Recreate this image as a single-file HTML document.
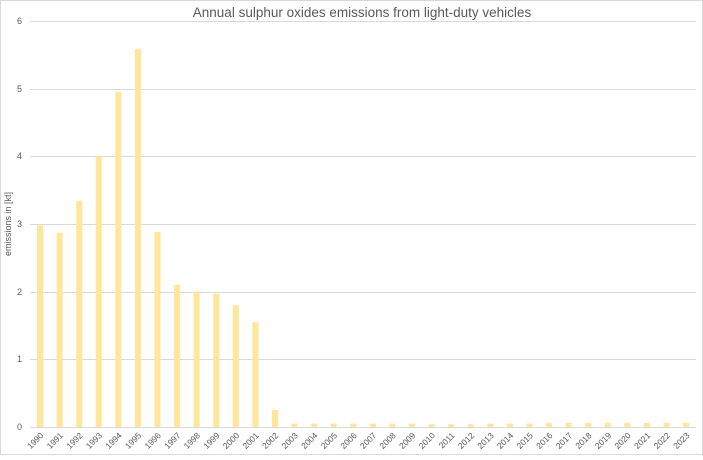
<!DOCTYPE html>
<html><head><style>body{margin:0;background:#fff}</style></head><body>
<svg width="703" height="455" xmlns="http://www.w3.org/2000/svg" font-family="Liberation Sans, sans-serif">
<rect x="0.5" y="0.5" width="702" height="454" fill="#fff" stroke="#d9d9d9"/>
<text x="362" y="17" text-anchor="middle" font-size="13.5" fill="#595959">Annual sulphur oxides emissions from light-duty vehicles</text>
<g stroke="#d9d9d9" stroke-width="1">
<line x1="30" x2="696" y1="21.5" y2="21.5"/><line x1="30" x2="696" y1="89.5" y2="89.5"/>
<line x1="30" x2="696" y1="156.5" y2="156.5"/><line x1="30" x2="696" y1="224.5" y2="224.5"/>
<line x1="30" x2="696" y1="292.5" y2="292.5"/><line x1="30" x2="696" y1="359.5" y2="359.5"/>
<line x1="30" x2="696" y1="427.5" y2="427.5"/>
</g>
<g font-size="9" fill="#595959" text-anchor="end">
<text x="22" y="24">6</text><text x="22" y="92">5</text><text x="22" y="159">4</text><text x="22" y="227">3</text><text x="22" y="295">2</text><text x="22" y="362">1</text><text x="22" y="430">0</text>
</g>
<text transform="translate(11,224) rotate(-90)" text-anchor="middle" font-size="9" fill="#595959">emissions in [kt]</text>
<g fill="#FFE699">
<rect x="37" y="225.3" width="6" height="201.7"/>
<rect x="56.6" y="232.7" width="6" height="194.3"/>
<rect x="76.2" y="200.9" width="6" height="226.1"/>
<rect x="95.7" y="156.2" width="6" height="270.8"/>
<rect x="115.3" y="91.9" width="6" height="335.1"/>
<rect x="134.9" y="49.2" width="6" height="377.8"/>
<rect x="154.5" y="232" width="6" height="195"/>
<rect x="174.1" y="284.8" width="6" height="142.2"/>
<rect x="193.6" y="291.6" width="6" height="135.4"/>
<rect x="213.2" y="293.6" width="6" height="133.4"/>
<rect x="232.8" y="305.1" width="6" height="121.9"/>
<rect x="252.4" y="322.1" width="6" height="104.9"/>
<rect x="272" y="410.1" width="6" height="16.9"/>
<rect x="291.5" y="423.6" width="6" height="3.4"/>
<rect x="311.1" y="423.6" width="6" height="3.4"/>
<rect x="330.7" y="423.6" width="6" height="3.4"/>
<rect x="350.3" y="423.6" width="6" height="3.4"/>
<rect x="369.9" y="423.6" width="6" height="3.4"/>
<rect x="389.4" y="423.6" width="6" height="3.4"/>
<rect x="409" y="423.6" width="6" height="3.4"/>
<rect x="428.6" y="424.3" width="6" height="2.7"/>
<rect x="448.2" y="424.3" width="6" height="2.7"/>
<rect x="467.8" y="424.3" width="6" height="2.7"/>
<rect x="487.3" y="423.6" width="6" height="3.4"/>
<rect x="506.9" y="423.6" width="6" height="3.4"/>
<rect x="526.5" y="423.6" width="6" height="3.4"/>
<rect x="546.1" y="422.9" width="6" height="4.1"/>
<rect x="565.7" y="422.9" width="6" height="4.1"/>
<rect x="585.2" y="422.9" width="6" height="4.1"/>
<rect x="604.8" y="422.9" width="6" height="4.1"/>
<rect x="624.4" y="422.9" width="6" height="4.1"/>
<rect x="644" y="422.9" width="6" height="4.1"/>
<rect x="663.6" y="422.9" width="6" height="4.1"/>
<rect x="683.1" y="422.9" width="6" height="4.1"/>
</g>
<g font-size="8.5" fill="#595959" text-anchor="end">
<text transform="translate(44,436) rotate(-45)">1990</text>
<text transform="translate(63.6,436) rotate(-45)">1991</text>
<text transform="translate(83.2,436) rotate(-45)">1992</text>
<text transform="translate(102.7,436) rotate(-45)">1993</text>
<text transform="translate(122.3,436) rotate(-45)">1994</text>
<text transform="translate(141.9,436) rotate(-45)">1995</text>
<text transform="translate(161.5,436) rotate(-45)">1996</text>
<text transform="translate(181.1,436) rotate(-45)">1997</text>
<text transform="translate(200.6,436) rotate(-45)">1998</text>
<text transform="translate(220.2,436) rotate(-45)">1999</text>
<text transform="translate(239.8,436) rotate(-45)">2000</text>
<text transform="translate(259.4,436) rotate(-45)">2001</text>
<text transform="translate(279,436) rotate(-45)">2002</text>
<text transform="translate(298.5,436) rotate(-45)">2003</text>
<text transform="translate(318.1,436) rotate(-45)">2004</text>
<text transform="translate(337.7,436) rotate(-45)">2005</text>
<text transform="translate(357.3,436) rotate(-45)">2006</text>
<text transform="translate(376.9,436) rotate(-45)">2007</text>
<text transform="translate(396.4,436) rotate(-45)">2008</text>
<text transform="translate(416,436) rotate(-45)">2009</text>
<text transform="translate(435.6,436) rotate(-45)">2010</text>
<text transform="translate(455.2,436) rotate(-45)">2011</text>
<text transform="translate(474.8,436) rotate(-45)">2012</text>
<text transform="translate(494.3,436) rotate(-45)">2013</text>
<text transform="translate(513.9,436) rotate(-45)">2014</text>
<text transform="translate(533.5,436) rotate(-45)">2015</text>
<text transform="translate(553.1,436) rotate(-45)">2016</text>
<text transform="translate(572.7,436) rotate(-45)">2017</text>
<text transform="translate(592.2,436) rotate(-45)">2018</text>
<text transform="translate(611.8,436) rotate(-45)">2019</text>
<text transform="translate(631.4,436) rotate(-45)">2020</text>
<text transform="translate(651,436) rotate(-45)">2021</text>
<text transform="translate(670.6,436) rotate(-45)">2022</text>
<text transform="translate(690.1,436) rotate(-45)">2023</text>
</g>
</svg>
</body></html>
